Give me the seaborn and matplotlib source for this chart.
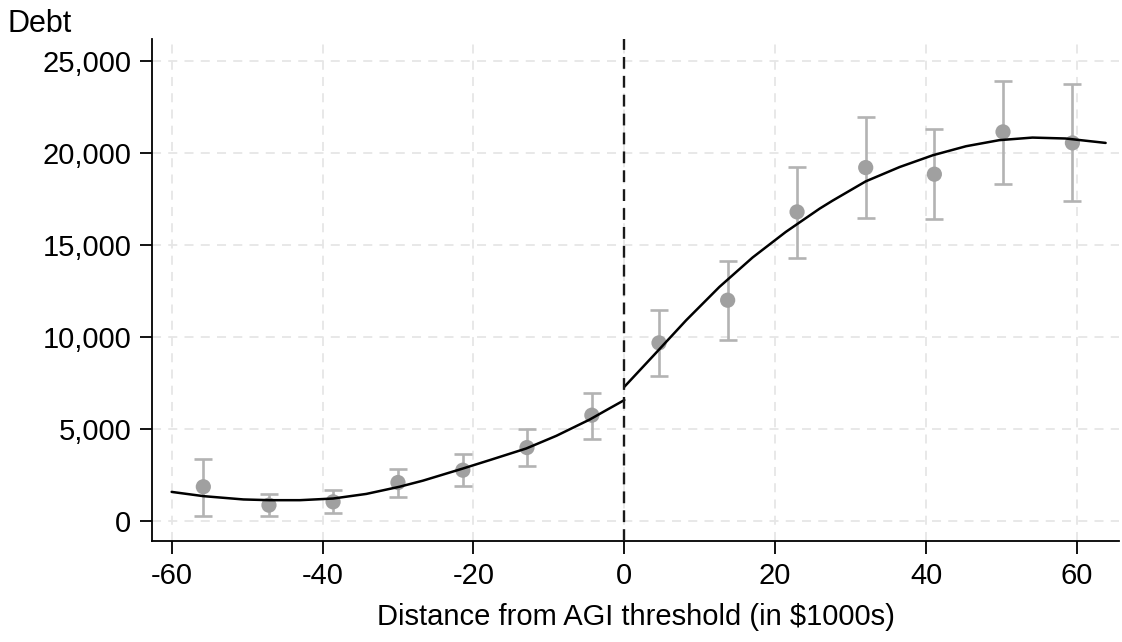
import numpy as np
import pandas as pd
import seaborn as sns
import matplotlib.pyplot as plt
from matplotlib.ticker import FuncFormatter

# binned means with 95% CIs
bin_x = [-55.8, -47.1, -38.6, -30.0, -21.4, -12.9, -4.3, 4.6, 13.7, 22.9, 32.0, 41.1, 50.2, 59.4]
debt_mean = [1870, 870, 1050, 2100, 2770, 4000, 5760, 9690, 12010, 16810, 19220, 18860, 21160, 20560]
debt_lo = [290, 270, 420, 1320, 1920, 3000, 4480, 7880, 9840, 14330, 16480, 16400, 18350, 17410]
debt_hi = [3400, 1500, 1690, 2830, 3640, 5000, 6970, 11470, 14150, 19260, 21960, 21340, 23950, 23770]

# fitted curve, left of the threshold
fit_left_x = [-60, -55.8, -50.5, -47, -43, -38.6, -34.2, -29.8, -26.7, -21.4, -17.9, -13.0, -9.0, -4.6, -2.4, 0]
fit_left_y = [1590, 1360, 1180, 1140, 1140, 1230, 1480, 1870, 2200, 2860, 3310, 3950, 4640, 5520, 6030, 6580]
# fitted curve, right of the threshold
fit_right_x = [0, 3.8, 8.2, 12.6, 17.0, 21.4, 25.9, 27.6, 32.0, 36.5, 40.9, 45.3, 49.7, 54.1, 58.5, 63.8]
fit_right_y = [7300, 8970, 10920, 12730, 14330, 15720, 16990, 17420, 18470, 19250, 19890, 20380, 20710, 20850, 20800, 20560]

bins = pd.DataFrame({"x": bin_x, "debt": debt_mean, "lo": debt_lo, "hi": debt_hi})
left = pd.DataFrame({"x": fit_left_x, "debt": fit_left_y})
right = pd.DataFrame({"x": fit_right_x, "debt": fit_right_y})

sns.set_theme(style="white")
plt.rcParams["font.family"] = ["Liberation Sans", "DejaVu Sans"]
plt.rcParams["axes.unicode_minus"] = False
plt.rcParams["text.color"] = "black"
plt.rcParams["axes.labelcolor"] = "black"
plt.rcParams["xtick.color"] = "black"
plt.rcParams["ytick.color"] = "black"

fig = plt.figure(figsize=(11.22, 6.42), dpi=100)
ax = fig.add_axes([0.1355, 0.157, 0.862, 0.782])

# light dashed grid
for v in [-60, -40, -20, 0, 20, 40, 60]:
    ax.axvline(v, color="#e6e6e6", lw=1.3, ls=(0, (5, 4)), zorder=0)
for v in range(0, 25001, 5000):
    ax.axhline(v, color="#e6e6e6", lw=1.3, ls=(0, (5, 4)), zorder=0)

# confidence intervals
ax.errorbar(bins["x"], bins["debt"],
            yerr=[bins["debt"] - bins["lo"], bins["hi"] - bins["debt"]],
            fmt="none", ecolor="#b3b3b3", elinewidth=1.9, capsize=6.5, capthick=1.9, zorder=2)
sns.scatterplot(data=bins, x="x", y="debt", ax=ax, color="#a0a0a0", s=120,
                edgecolor="none", zorder=3)

# polynomial fits on each side
sns.lineplot(data=left, x="x", y="debt", ax=ax, color="black", lw=1.8, zorder=4)
sns.lineplot(data=right, x="x", y="debt", ax=ax, color="black", lw=1.8, zorder=4)

ax.axvline(0, color="#1a1a1a", lw=1.7, ls=(0, (5, 3)), zorder=5)

ax.set_xlim(-62.6, 65.6)
ax.set_ylim(-1090, 26200)
ax.set_xticks([-60, -40, -20, 0, 20, 40, 60])
ax.set_yticks(range(0, 25001, 5000))
ax.yaxis.set_major_formatter(FuncFormatter(lambda v, p: f"{int(v):,}"))

for s in ["top", "right"]:
    ax.spines[s].set_visible(False)
for s in ["left", "bottom"]:
    ax.spines[s].set_color("black")
    ax.spines[s].set_linewidth(1.3)

ax.tick_params(axis="both", which="major", direction="out", length=9, width=1.3,
               color="black", labelcolor="black", labelsize=21, pad=6, left=True, bottom=True)
ax.set_xlabel("Distance from AGI threshold (in $1000s)", fontsize=21, labelpad=9, color="black")
ax.set_ylabel("")
fig.text(0.007, 0.95, "Debt", fontsize=22, ha="left", va="baseline", color="black")

fig.savefig("out.png", dpi=100)
